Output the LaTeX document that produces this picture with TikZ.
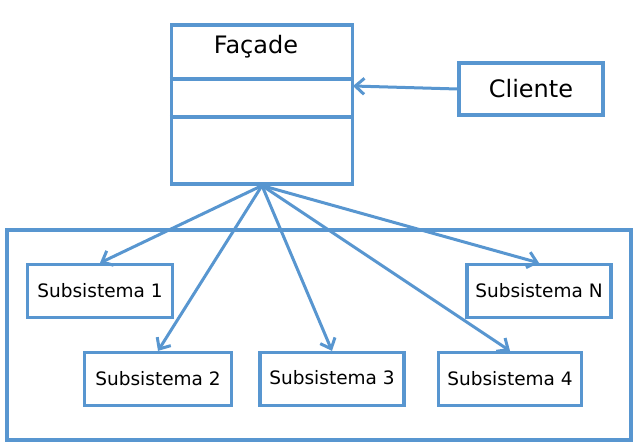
\documentclass[tikz,border=0pt]{standalone}
\usepackage{fontspec}
\setmainfont{DejaVu Sans}
\usetikzlibrary{arrows.meta,positioning}
\definecolor{umlblue}{RGB}{88,150,208}

\begin{document}
\begin{tikzpicture}[x=1pt,y=-1pt,every node/.style={inner sep=0pt},
      frame/.style={draw=umlblue,line width=3.2pt},
      box/.style={frame,minimum width=145pt,minimum height=53pt,
                  font=\fontsize{18.5}{21}\selectfont},
      link/.style={draw=umlblue,line width=3pt,
                   -{Straight Barb[length=9pt,width=16pt]}}]
    \useasboundingbox (0,0) rectangle (638,443);
    % class box of the facade
    \node[frame,minimum width=181pt,minimum height=159pt] (facade) at (262,104.5) {};
    \node[font=\fontsize{24}{27}\selectfont] (title) at (256,47) {Façade};
    \draw[frame] (facade.west |- 0,79) -- (facade.east |- 0,79);
    \draw[frame] (facade.west |- 0,117) -- (facade.east |- 0,117);
    \node[box,minimum width=144pt,minimum height=52pt,
          font=\fontsize{24}{27}\selectfont] (cliente) at (531,89) {Cliente};
    \coordinate (facin) at (353,86);
    \draw[link] (cliente.west) -- (facin);
    % subsystems
    \node[frame,minimum width=624pt,minimum height=210pt] (pkg) at (319,335) {};
    \node[box] (s1) at (100,291)   {Subsistema 1};
    \node[box,minimum width=147pt] (s2) at (158,379) {Subsistema 2};
    \node[box,minimum width=144pt] (s3) at (332,379) {\raisebox{3pt}{Subsistema 3}};
    \node[box,minimum width=143pt] (s4) at (510,379) {\raisebox{-2pt}{Subsistema 4}};
    \node[box,minimum width=144pt] (sN) at (539,291) {Subsistema N};
    \foreach \s in {s1,s2,s3,s4,sN}
      \draw[link] (facade.south) -- (\s.north);
  \end{tikzpicture}
\end{document}
